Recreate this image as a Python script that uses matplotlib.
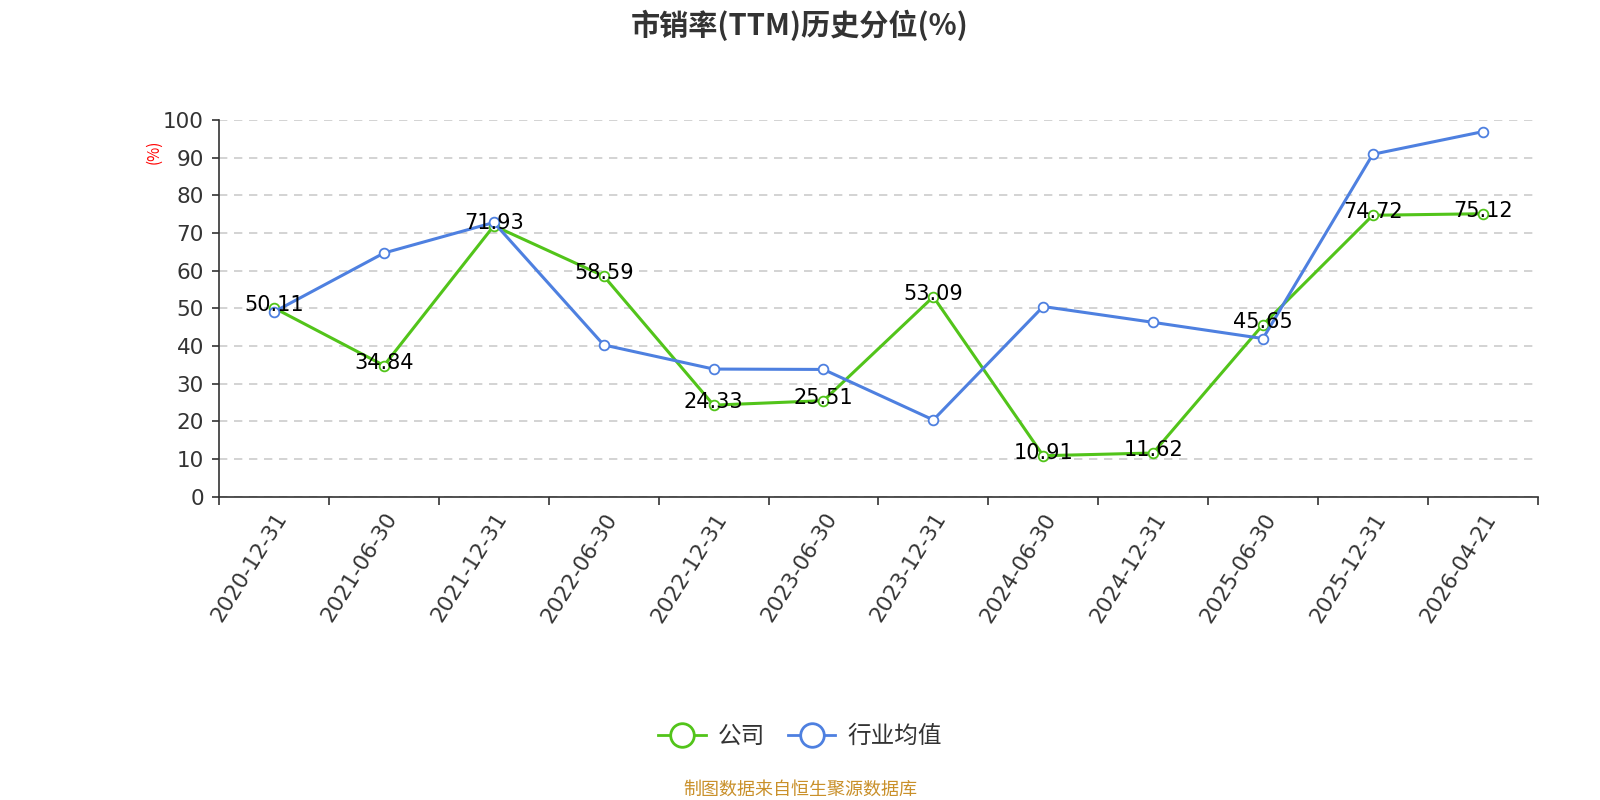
import matplotlib.pyplot as plt
from matplotlib.lines import Line2D

plt.rcParams['font.family'] = ['Noto Sans CJK SC', 'DejaVu Sans']

# data
dates = ['2020-12-31', '2021-06-30', '2021-12-31', '2022-06-30', '2022-12-31', '2023-06-30',
         '2023-12-31', '2024-06-30', '2024-12-31', '2025-06-30', '2025-12-31', '2026-04-21']
company = [50.11, 34.84, 71.93, 58.59, 24.33, 25.51, 53.09, 10.91, 11.62, 45.65, 74.72, 75.12]
industry = [49.1, 64.7, 72.8, 40.3, 33.9, 33.8, 20.4, 50.5, 46.3, 42.0, 90.9, 96.9]

green = '#52c41a'
blue = '#4e80e0'
dark = '#333333'
num_font = ['DejaVu Sans']

fig = plt.figure(figsize=(16, 8), dpi=100)
ax = fig.add_axes([0.137, 0.379, 0.824, 0.471])

x = list(range(len(dates)))
ax.plot(x, company, color=green, lw=2.2, zorder=3)
ax.plot(x, company, ls='none', marker='o', ms=7, mfc='white', mec=green, mew=1.3, zorder=3.5)
ax.plot(x, industry, color=blue, lw=2.2, zorder=4)
ax.plot(x, industry, ls='none', marker='o', ms=7, mfc='white', mec=blue, mew=1.3, zorder=4.5)

for xi, v in zip(x, company):
    ax.text(xi, v + 0.8, f'{v:.2f}', ha='center', va='center', fontsize=15,
            color='black', family=num_font, zorder=5)

ax.set_xlim(-0.5, len(dates) - 0.5)
ax.set_ylim(0, 100)
ax.set_yticks(range(0, 101, 10))
ax.tick_params(axis='y', labelsize=15.5, colors=dark, length=5, width=1.2, pad=6)
for lab in ax.get_yticklabels():
    lab.set_family(num_font)
ax.yaxis.grid(True, linestyle=(0, (5, 4)), color='#cccccc', lw=1.2)
ax.set_axisbelow(True)

# categories centered in bands, ticks at band boundaries
ax.set_xticks([i - 0.5 for i in range(len(dates) + 1)])
ax.set_xticklabels([])
ax.set_xticks(x, minor=True)
ax.set_xticklabels(dates, minor=True, rotation=58, ha='right', rotation_mode='anchor',
                   fontsize=15.5, color=dark, family=num_font)
ax.tick_params(axis='x', which='major', length=6, width=1.2, color=dark)
ax.tick_params(axis='x', which='minor', length=0, pad=9)

for s in ['top', 'right']:
    ax.spines[s].set_visible(False)
for s in ['left', 'bottom']:
    ax.spines[s].set_color(dark)
    ax.spines[s].set_linewidth(1.2)

fig.text(0.096, 0.81, '(%)', rotation=90, color='red', fontsize=11, ha='center', va='center')

fig.text(0.5, 0.968, '市销率(TTM)历史分位(%)', ha='center', va='center',
         fontsize=21, fontweight='bold', color=dark)

handles = [
    Line2D([0], [0], color=green, lw=2, marker='o', ms=17, mfc='white', mec=green, mew=2),
    Line2D([0], [0], color=blue, lw=2, marker='o', ms=17, mfc='white', mec=blue, mew=2),
]
fig.legend(handles, ['公司', '行业均值'], loc='center', bbox_to_anchor=(0.5, 0.079), ncol=2,
           frameon=False, fontsize=17, handlelength=2.0, handletextpad=0.5,
           columnspacing=1.0, labelcolor=dark)

fig.text(0.5, 0.0125, '制图数据来自恒生聚源数据库', ha='center', va='center',
         fontsize=13, color='#c9902a')

fig.savefig('out.png', dpi=100)
